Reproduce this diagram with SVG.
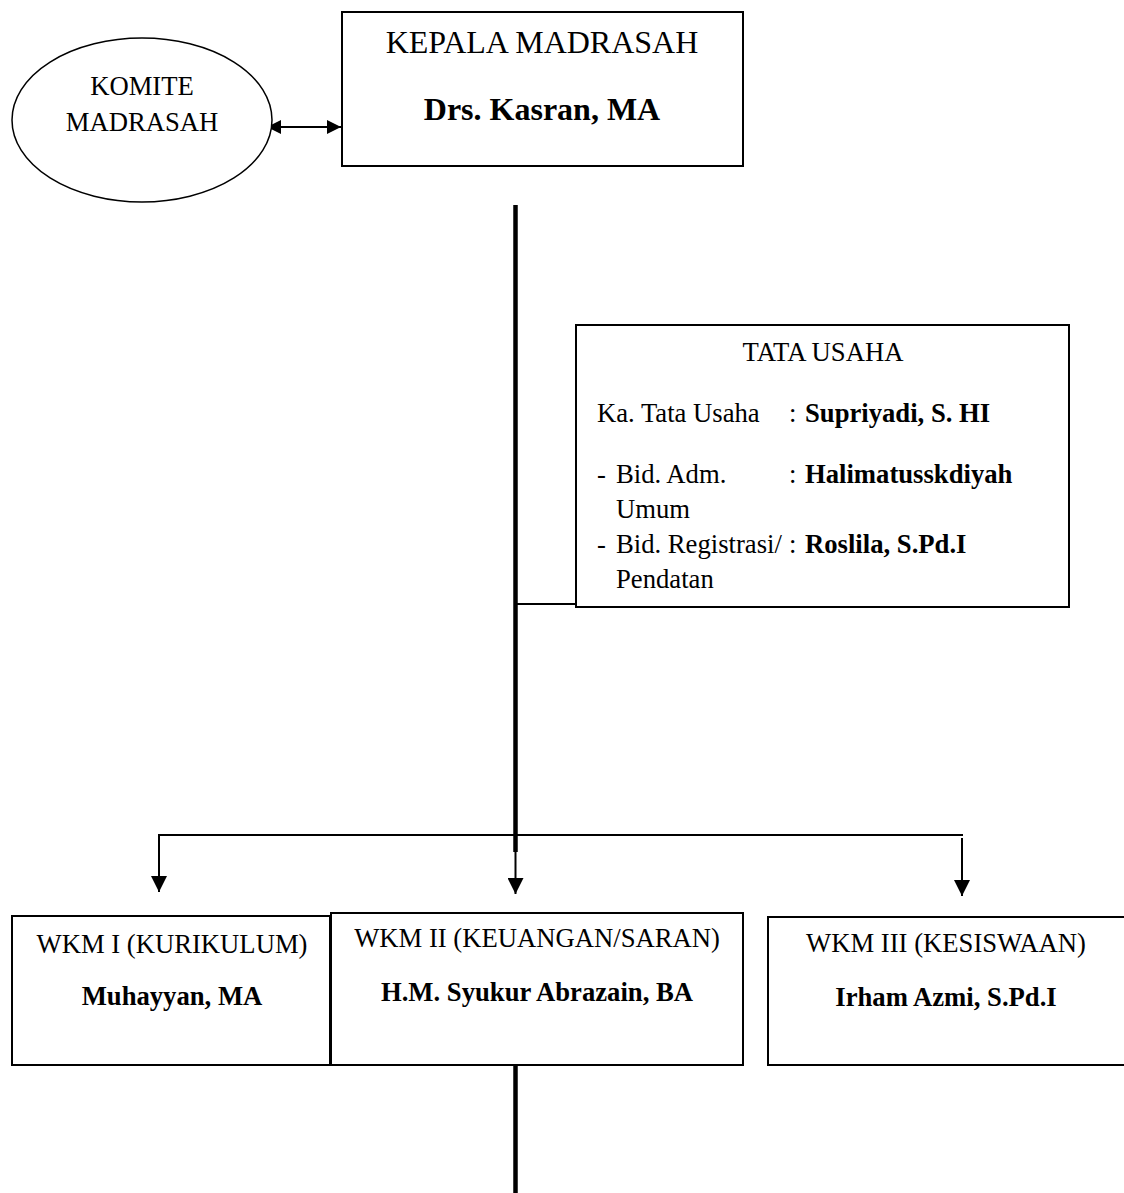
<svg xmlns="http://www.w3.org/2000/svg" width="1124" height="1193" viewBox="0 0 1124 1193">
  <style>
    .t { font-family: "Liberation Serif", "Times New Roman", serif; font-size: 26.67px; fill: #000; }
    .big { font-size: 32px; }
    .b { font-weight: bold; }
    .c { text-anchor: middle; }
    .box { fill: #fff; stroke: #000; stroke-width: 2; }
    .ln { fill: none; stroke: #000; stroke-width: 2; }
    .thick { fill: none; stroke: #000; stroke-width: 4.5; }
  </style>
  <defs>
    <marker id="ah" markerUnits="userSpaceOnUse" markerWidth="16" markerHeight="16" viewBox="0 0 16 16" refX="16" refY="8" orient="auto">
      <path d="M0,0 L16,8 L0,16 Z" fill="#000"/>
    </marker>
    <marker id="ahs" markerUnits="userSpaceOnUse" markerWidth="14" markerHeight="14" viewBox="0 0 14 14" refX="14" refY="7" orient="auto-start-reverse">
      <path d="M0,0 L14,7 L0,14 Z" fill="#000"/>
    </marker>
  </defs>
  <rect width="1124" height="1193" fill="#fff"/>

  <g id="connectors">
    <line class="ln" x1="267" y1="127" x2="341" y2="127" marker-start="url(#ahs)" marker-end="url(#ahs)"/>
    <line class="thick" x1="515.5" y1="205" x2="515.5" y2="852"/>
    <line class="ln" x1="516" y1="604" x2="577" y2="604"/>
    <line class="ln" x1="159" y1="835" x2="963" y2="835"/>
    <line class="ln" x1="159" y1="834" x2="159" y2="892" marker-end="url(#ah)"/>
    <line class="ln" x1="515.5" y1="850" x2="515.5" y2="894" marker-end="url(#ah)"/>
    <line class="ln" x1="962" y1="838" x2="962" y2="896" marker-end="url(#ah)"/>
    <line class="thick" x1="515.5" y1="1065" x2="515.5" y2="1193"/>
  </g>

  <g id="komite">
    <ellipse cx="142" cy="120" rx="130" ry="82" fill="#fff" stroke="#000" stroke-width="1.5"/>
    <text class="t c" x="142" y="95">KOMITE</text>
    <text class="t c" x="142" y="131">MADRASAH</text>
  </g>

  <g id="kepala">
    <rect class="box" x="342" y="12" width="401" height="154"/>
    <text class="t big c" x="542" y="53">KEPALA MADRASAH</text>
    <text class="t big b c" x="542" y="120">Drs. Kasran, MA</text>
  </g>

  <g id="tata-usaha">
    <rect class="box" x="576" y="325" width="493" height="282"/>
    <text class="t c" x="823" y="361">TATA USAHA</text>
    <text class="t" x="597" y="422">Ka. Tata Usaha</text>
    <text class="t" x="789" y="422">:</text>
    <text class="t b" x="805" y="422">Supriyadi, S. HI</text>
    <text class="t" x="597" y="483">-</text>
    <text class="t" x="616" y="483">Bid. Adm.</text>
    <text class="t" x="789" y="483">:</text>
    <text class="t b" x="805" y="483">Halimatusskdiyah</text>
    <text class="t" x="616" y="518">Umum</text>
    <text class="t" x="597" y="553">-</text>
    <text class="t" x="616" y="553">Bid. Registrasi/</text>
    <text class="t" x="789" y="553">:</text>
    <text class="t b" x="805" y="553">Roslila, S.Pd.I</text>
    <text class="t" x="616" y="588">Pendatan</text>
  </g>

  <g id="wkm1">
    <rect class="box" x="12" y="916" width="318" height="149"/>
    <text class="t c" x="172" y="953">WKM I (KURIKULUM)</text>
    <text class="t b c" x="172" y="1005">Muhayyan, MA</text>
  </g>

  <g id="wkm2">
    <rect class="box" x="331" y="913" width="412" height="152"/>
    <text class="t c" x="537" y="947">WKM II (KEUANGAN/SARAN)</text>
    <text class="t b c" x="537" y="1001">H.M. Syukur Abrazain, BA</text>
  </g>

  <g id="wkm3">
    <rect class="box" x="768" y="917" width="360" height="148"/>
    <text class="t c" x="946" y="952">WKM III (KESISWAAN)</text>
    <text class="t b c" x="946" y="1006">Irham Azmi, S.Pd.I</text>
  </g>
</svg>
